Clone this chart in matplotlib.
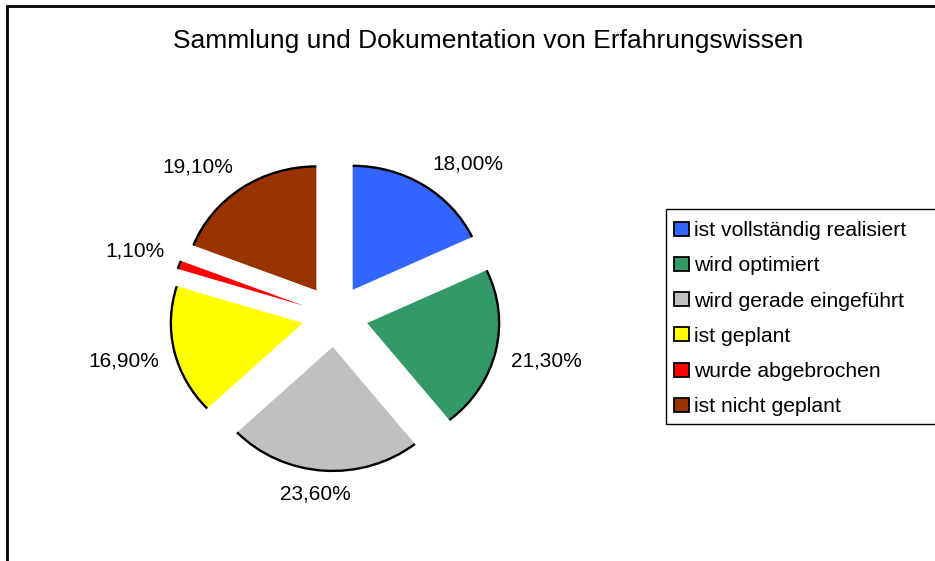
import numpy as np
import matplotlib
matplotlib.use("Agg")
import matplotlib.pyplot as plt
from matplotlib.patches import Arc, Patch, Rectangle

categories = ["ist vollständig realisiert", "wird optimiert", "wird gerade eingeführt",
              "ist geplant", "wurde abgebrochen", "ist nicht geplant"]
values = [18.0, 21.3, 23.6, 16.9, 1.1, 19.1]
value_labels = ["18,00%", "21,30%", "23,60%", "16,90%", "1,10%", "19,10%"]
colors = ["#3366FF", "#339966", "#C0C0C0", "#FFFF00", "#FF0000", "#993300"]
title = "Sammlung und Dokumentation von Erfahrungswissen"

plt.rcParams['font.family'] = ['Liberation Sans', 'DejaVu Sans']

W, H = 935, 561
fig = plt.figure(figsize=(W / 100, H / 100), dpi=100)

# pie axes: center (335,316) px, rx 132 px, ry 124 px, limits +-1.6
cx, cy, rx, ry, lim = 335, 316, 132, 124, 1.6
aw, ah = 2 * lim * rx, 2 * lim * ry
ax = fig.add_axes([(cx - aw / 2) / W, (H - cy - ah / 2) / H, aw / W, ah / H])

explode = [0.25] * len(values)
wedges, _ = ax.pie(values, colors=colors, startangle=90, counterclock=False,
                   explode=explode, radius=1.0,
                   wedgeprops=dict(linewidth=0))
ax.set_aspect('auto')
ax.set_xlim(-lim, lim)
ax.set_ylim(-lim, lim)
ax.axis('off')

for w in wedges:
    ax.add_patch(Arc(w.center, 2 * w.r, 2 * w.r, theta1=w.theta1, theta2=w.theta2,
                     color='black', lw=1.7))

# value labels placed outside each slice (box pushed away from the anchor point)
renderer = fig.canvas.get_renderer()
for w, lab in zip(wedges, value_labels):
    mid = np.deg2rad((w.theta1 + w.theta2) / 2)
    c, s = np.cos(mid), np.sin(mid)
    t = ax.text(0, 0, lab, ha='center', va='center', fontsize=15, color='black')
    bb = t.get_window_extent(renderer)
    hw, hh = bb.width / 2, 9.0
    ox = hw * np.clip(3 * c, -1, 1) / rx
    oy = hh * np.clip(3 * s, -1, 1) / ry
    R = 1.37
    t.set_position((R * c + ox, R * s + oy))

fig.text(488 / W, 1 - 41 / H, title, ha='center', va='center', fontsize=19)

handles = [Patch(facecolor=col, edgecolor='black', linewidth=1.3) for col in colors]
leg = fig.legend(handles, categories, loc='upper left',
                 bbox_to_anchor=(666 / W, 1 - 213 / H),
                 fontsize=15.2, frameon=False,
                 borderpad=0.38, labelspacing=0.77, handlelength=0.72,
                 handleheight=0.63, handletextpad=0.25, borderaxespad=0)

# legend box (extends to the right edge of the chart area)
fig.add_artist(Rectangle((666 / W, 1 - 424 / H), (940 - 666) / W, (424 - 209) / H,
                         transform=fig.transFigure, fill=False, edgecolor='black',
                         linewidth=1.0))

# outer chart-area frame (left and top edges visible)
fig.add_artist(Rectangle((7 / W, -0.05), 1.2, 1 - 6 / H + 0.05, transform=fig.transFigure,
                         fill=False, edgecolor='black', linewidth=2))

fig.savefig("out.png", dpi=100)
